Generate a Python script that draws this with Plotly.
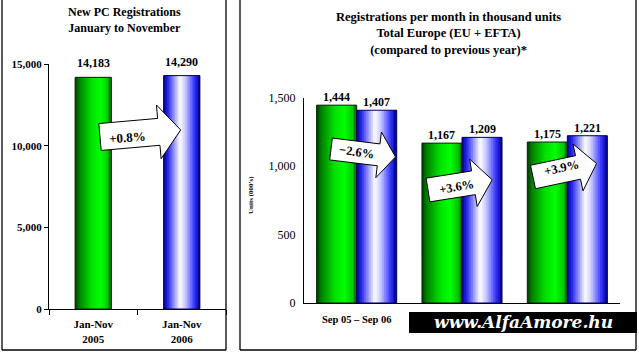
import math
import plotly.graph_objects as go

# ---------------- data ----------------
left_categories = ["Jan-Nov<br>2005", "Jan-Nov<br>2006"]
left_values = [14183, 14290]
left_change = ["+0.8%"]

right_categories = ["Sep 05 – Sep 06", "Oct 05 – Oct 06", "Nov 05 – Nov 06"]
right_tick_labels = ["Sep 05 – Sep 06", "", ""]
right_prev = [1444, 1167, 1175]
right_curr = [1407, 1209, 1221]
right_changes = ["−2.6%", "+3.6%", "+3.9%"]

left_title = "New PC Registrations<br>January to November"
right_title = ("Registrations per month in thousand units<br>Total Europe (EU + EFTA)"
               "<br>(compared to previous year)*")

W, H = 639, 352
SERIF = "Liberation Serif, Times New Roman, Times, DejaVu Serif, serif"

GREEN_STOPS = [(0.0, (0, 60, 0)), (0.12, (0, 130, 0)), (0.45, (0, 225, 0)),
               (0.7, (0, 255, 0)), (0.9, (0, 200, 0)), (1.0, (0, 110, 0))]
BLUE_STOPS = [(0.0, (0, 0, 150)), (0.12, (40, 40, 235)), (0.32, (170, 170, 255)),
              (0.45, (255, 255, 255)), (0.6, (200, 200, 255)), (0.85, (50, 50, 255)),
              (1.0, (0, 0, 140))]


def grad(stops, t):
    for (t0, c0), (t1, c1) in zip(stops[:-1], stops[1:]):
        if t0 <= t <= t1:
            f = (t - t0) / (t1 - t0) if t1 > t0 else 0
            c = [round(a + (b - a) * f) for a, b in zip(c0, c1)]
            return "rgb(%d,%d,%d)" % tuple(c)
    return "rgb(%d,%d,%d)" % stops[-1][1]


N = 22
fig = go.Figure()
annotations = []
shapes = []
VFONT = dict(family=SERIF, size=12, color="black", weight="bold")


def gradient_bars(x, y, stops, width, offset, xa, ya, outline):
    sw = width / N
    for i in range(N):
        t = (i + 0.5) / N
        w = sw * (1.6 if i < N - 1 else 1.0)
        fig.add_trace(go.Bar(x=x, y=y, width=w, offset=offset + i * sw,
                             marker=dict(color=grad(stops, t), line=dict(width=0)),
                             xaxis=xa, yaxis=ya, hoverinfo="skip"))
    fig.add_trace(go.Bar(x=x, y=y, width=width, offset=offset,
                         marker=dict(color="rgba(0,0,0,0)", line=dict(color=outline, width=1)),
                         xaxis=xa, yaxis=ya, hoverinfo="skip"))


def value_labels(xs, ys, xa, ya, shift):
    for xv, yv in zip(xs, ys):
        annotations.append(dict(x=xv, y=yv, xref=xa, yref=ya, text=f"{yv:,}",
                                showarrow=False, xanchor="center", yanchor="bottom",
                                yshift=shift, font=VFONT))


LW = 0.41
gradient_bars([left_categories[0]], [left_values[0]], GREEN_STOPS, LW, -LW / 2, "x", "y", "#002200")
gradient_bars([left_categories[1]], [left_values[1]], BLUE_STOPS, LW, -LW / 2, "x", "y", "#000060")
value_labels(left_categories, left_values, "x", "y", 5)

RW = 0.38
gradient_bars(right_categories, right_prev, GREEN_STOPS, RW, -RW, "x2", "y2", "#002200")
gradient_bars(right_categories, right_curr, BLUE_STOPS, RW, 0.0, "x2", "y2", "#000060")
value_labels([i - RW / 2 for i in range(len(right_categories))], right_prev, "x2", "y2", -1)
value_labels([i + RW / 2 for i in range(len(right_categories))], right_curr, "x2", "y2", -1)


# ---------------- decorations (pixel space) ----------------
def P(x, y):
    return x / W, 1 - y / H


def text_at(x, y, text, font, angle=0):
    px, py = P(x, y)
    annotations.append(dict(x=px, y=py, xref="paper", yref="paper", text=text,
                            showarrow=False, textangle=angle, xanchor="center",
                            yanchor="middle", font=font))


def arrow(tx, ty, L, hb, hh, Lh, ang, label, tcx, tcy, tang, size):
    a = math.radians(ang)
    pts = [(0, -hb), (L - Lh, -hb), (L - Lh, -hh), (L, 0), (L - Lh, hh), (L - Lh, hb), (0, hb)]
    path = ""
    for k, (u, v) in enumerate(pts):
        x = tx + u * math.cos(a) - v * math.sin(a)
        y = ty + u * math.sin(a) + v * math.cos(a)
        px, py = P(x, y)
        path += ("M" if k == 0 else "L") + f"{px:.5f},{py:.5f} "
    shapes.append(dict(type="path", path=path + "Z", xref="paper", yref="paper",
                       fillcolor="white", line=dict(color="black", width=1), layer="above"))
    text_at(tcx, tcy, label, dict(family=SERIF, size=size, color="black", weight="bold"), tang)


arrow(100, 137, 81, 13.5, 27, 22, -5, left_change[0], 127, 137, -4, 13)
arrow(331, 149, 65, 11, 23, 17, 7, right_changes[0], 356, 152, 8, 12.5)
arrow(428, 190, 65, 12, 24, 19, -9, right_changes[1], 456, 187, -10, 12.5)
arrow(533, 177, 65, 12, 24, 19, -12, right_changes[2], 561, 168, -12, 12.5)

for (x0, y0, x1, y1) in [(2, -2, 2, 350), (226, -2, 226, 350), (2, 350, 226, 350),
                         (240, -2, 240, 350), (636, -2, 636, 350), (240, 350, 636, 350)]:
    a0, b0 = P(x0, y0)
    a1, b1 = P(x1, y1)
    shapes.append(dict(type="line", xref="paper", yref="paper", x0=a0, y0=b0, x1=a1, y1=b1,
                       line=dict(color="black", width=1.3)))

a0, b0 = P(409, 312)
a1, b1 = P(637, 333)
shapes.append(dict(type="rect", xref="paper", yref="paper", x0=a0, y0=b0, x1=a1, y1=b1,
                   fillcolor="black", line=dict(width=0), layer="above"))
text_at(523, 322, "www.AlfaAmore.hu",
        dict(family="DejaVu Serif", size=17, color="white", style="italic", weight="bold"))

text_at(124, 20, left_title, dict(family=SERIF, size=12, color="black", weight="bold"))
text_at(448, 34, right_title, dict(family=SERIF, size=12.5, color="black", weight="bold"))
text_at(251, 195, "Units (000's)", dict(family=SERIF, size=7, color="black", weight="bold"), -90)

axis_common = dict(showgrid=False, zeroline=False, showline=True, linecolor="black",
                   linewidth=1, fixedrange=True, automargin=False)

fig.update_layout(
    template="none",
    width=W, height=H, margin=dict(l=0, r=0, t=0, b=0, autoexpand=False),
    paper_bgcolor="white", plot_bgcolor="white", showlegend=False,
    barmode="overlay",
    xaxis=dict(domain=[49 / W, 226 / W], anchor="y", type="category",
               range=[-0.5, 1.5], ticks="outside", tickson="boundaries", ticklen=5,
               tickcolor="black",
               tickfont=dict(family=SERIF, size=11, color="black", weight="bold"),
               ticklabelstandoff=5, **axis_common),
    yaxis=dict(domain=[1 - 309 / H, 1 - 64 / H], anchor="x", range=[0, 15000],
               tickvals=[0, 5000, 10000, 15000], tickformat=",", ticks="outside",
               ticklen=4, tickcolor="black",
               tickfont=dict(family=SERIF, size=11, color="black", weight="bold"),
               **axis_common),
    xaxis2=dict(domain=[304 / W, 620 / W], anchor="y2", type="category",
                range=[-0.5, 2.5], ticks="", tickvals=right_categories,
                ticktext=right_tick_labels, ticklabelstandoff=6,
                tickfont=dict(family=SERIF, size=10.5, color="black", weight="bold"),
                **axis_common),
    yaxis2=dict(domain=[1 - 303 / H, 1 - 97.5 / H], anchor="x2", range=[0, 1500],
                tickvals=[0, 500, 1000, 1500], tickformat=",", ticks="",
                ticklabelstandoff=5,
                tickfont=dict(family=SERIF, size=12, color="black"),
                **axis_common),
    shapes=shapes, annotations=annotations,
)

fig.write_html("out.html")
